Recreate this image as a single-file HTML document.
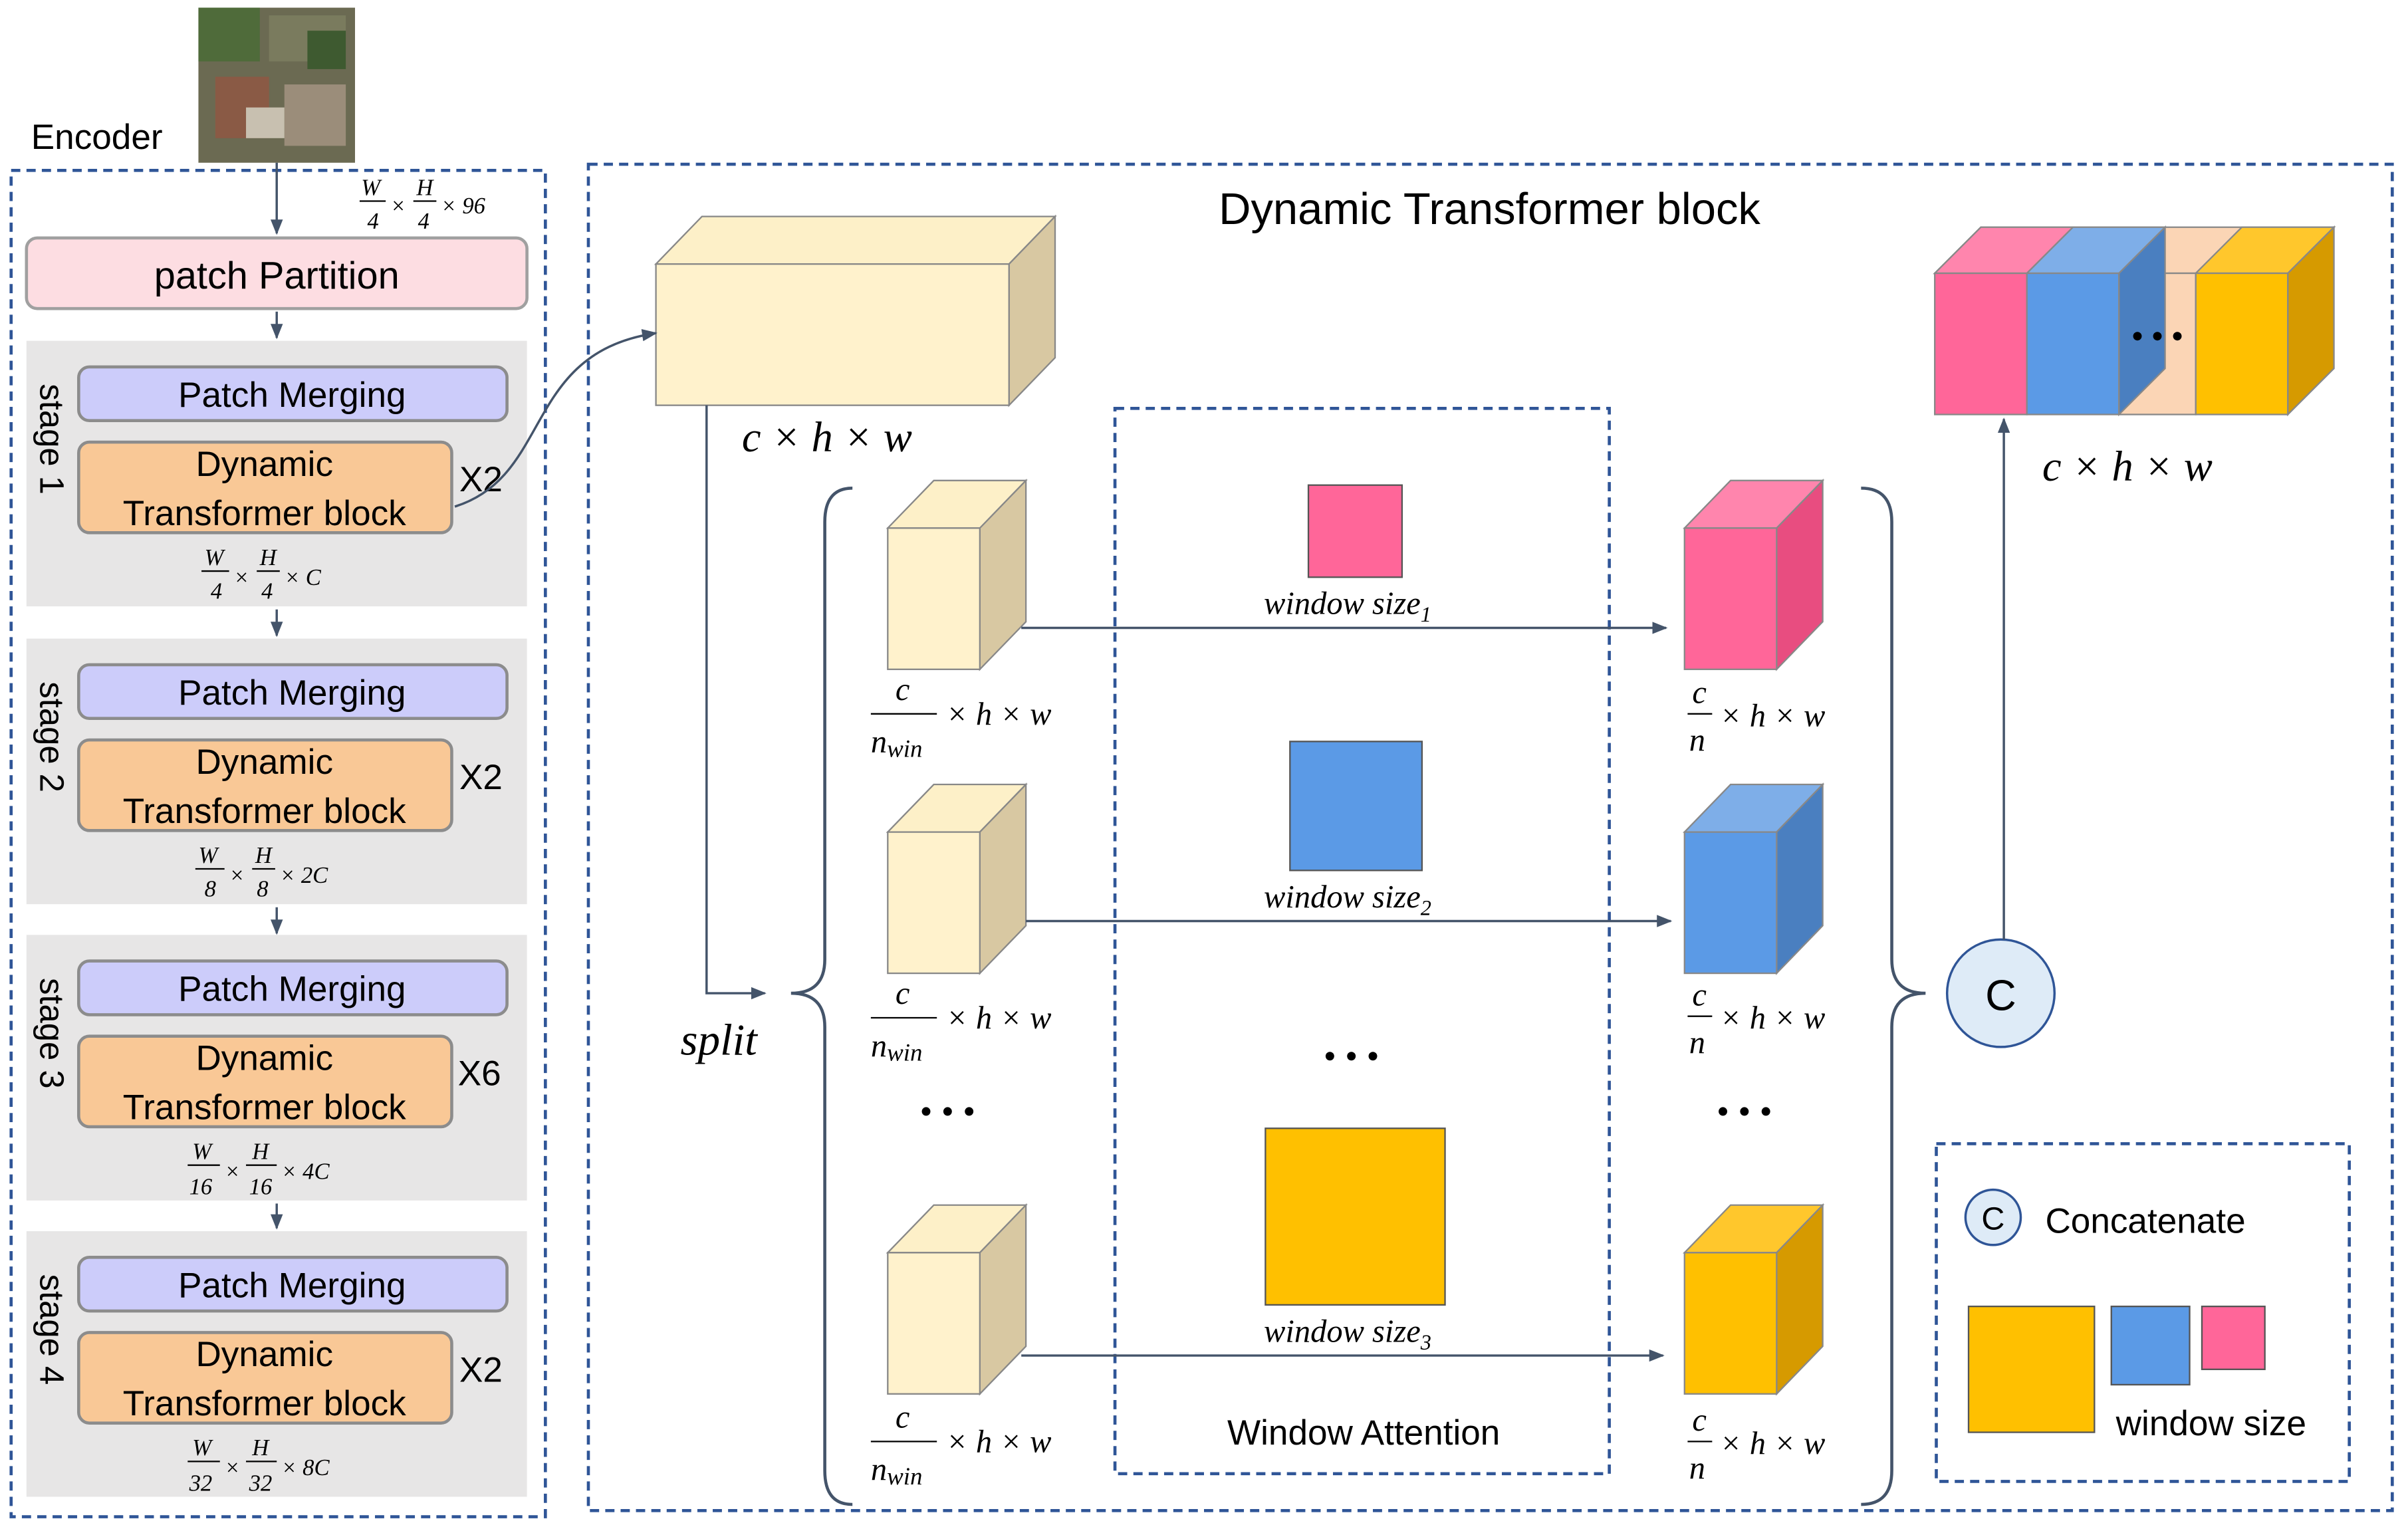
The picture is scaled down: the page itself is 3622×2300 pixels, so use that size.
<!DOCTYPE html>
<html><head><meta charset="utf-8"><style>
html,body{margin:0;padding:0;background:#fff}
svg{display:block}
.s{font-family:"Liberation Sans",sans-serif;fill:#000}
.m{font-family:"Liberation Serif",serif;font-style:italic;fill:#000}
</style></head><body>
<svg width="3622" height="2300" viewBox="0 0 1568 996" xmlns="http://www.w3.org/2000/svg">
<defs>
<marker id="a" markerWidth="10" markerHeight="10" refX="9" refY="5" orient="auto" markerUnits="userSpaceOnUse"><path d="M0,1 L10,5 L0,9 z" fill="#44546a"/></marker>
</defs>
<rect x="129" y="5" width="102" height="101" fill="#6b6a52"/>
<rect x="129" y="5" width="40" height="35" fill="#4f6b3a"/>
<rect x="175" y="10" width="50" height="30" fill="#7a7b5e"/>
<rect x="140" y="50" width="35" height="40" fill="#8a5a45"/>
<rect x="185" y="55" width="40" height="40" fill="#9b8d7a"/>
<rect x="160" y="70" width="25" height="20" fill="#c8c0b0"/>
<rect x="200" y="20" width="25" height="25" fill="#3e5a30"/>
<text x="20" y="97" class="s" font-size="23">Encoder</text>
<rect x="7" y="111" width="348" height="877" fill="none" stroke="#2f5597" stroke-width="2" stroke-dasharray="6,4"/>
<line x1="180" y1="106" x2="180" y2="152" stroke="#44546a" stroke-width="1.5" marker-end="url(#a)"/>
<g class="m" font-size="15">
<text x="235" y="127">W</text><line x1="234" y1="131" x2="251" y2="131" stroke="#000"/><text x="239" y="149">4</text>
<text x="254" y="139">×</text>
<text x="271" y="127">H</text><line x1="269" y1="131" x2="284" y2="131" stroke="#000"/><text x="272" y="149">4</text>
<text x="287" y="139">× 96</text>
</g>
<rect x="17" y="155" width="326" height="46" rx="7" fill="#fddde2" stroke="#a0a0a0" stroke-width="2"/>
<text x="180" y="188" class="s" font-size="25" text-anchor="middle">patch Partition</text>
<line x1="180" y1="203" x2="180" y2="220" stroke="#44546a" stroke-width="1.5" marker-end="url(#a)"/>

<g id="st">
<rect x="17" y="222" width="326" height="173" fill="#e7e6e6"/>
<rect x="51" y="239" width="279" height="35" rx="7" fill="#ccccfa" stroke="#8c8c8c" stroke-width="2"/>
<text x="190" y="265" class="s" font-size="23" text-anchor="middle">Patch Merging</text>
<rect x="51" y="288" width="243" height="59" rx="7" fill="#f9c896" stroke="#8c8c8c" stroke-width="2"/>
</g>
<use href="#st" y="194"/><use href="#st" y="387"/><use href="#st" y="580"/>
<g class="s" font-size="23" text-anchor="middle">
<text x="172" y="310">Dynamic</text><text x="172" y="342">Transformer block</text>
<text x="172" y="504">Dynamic</text><text x="172" y="536">Transformer block</text>
<text x="172" y="697">Dynamic</text><text x="172" y="729">Transformer block</text>
<text x="172" y="890">Dynamic</text><text x="172" y="922">Transformer block</text>
</g>
<g class="s" font-size="23">
<text x="299" y="320">X2</text><text x="299" y="514">X2</text><text x="298" y="707">X6</text><text x="299" y="900">X2</text>
</g>
<g class="s" font-size="22">
<text transform="translate(26,250) rotate(90)">stage 1</text>
<text transform="translate(26,444) rotate(90)">stage 2</text>
<text transform="translate(26,637) rotate(90)">stage 3</text>
<text transform="translate(26,830) rotate(90)">stage 4</text>
</g>
<g class="m" font-size="15">
<text x="133" y="368">W</text><line x1="131" y1="372" x2="149" y2="372" stroke="#000"/><text x="137" y="390">4</text><text x="152" y="381">×</text>
<text x="169" y="368">H</text><line x1="167" y1="372" x2="182" y2="372" stroke="#000"/><text x="170" y="390">4</text><text x="185" y="381">× C</text>

<text x="129" y="562">W</text><line x1="127" y1="566" x2="146" y2="566" stroke="#000"/><text x="133" y="584">8</text><text x="149" y="575">×</text>
<text x="166" y="562">H</text><line x1="164" y1="566" x2="179" y2="566" stroke="#000"/><text x="167" y="584">8</text><text x="182" y="575">× 2C</text>

<text x="125" y="755">W</text><line x1="122" y1="759" x2="143" y2="759" stroke="#000"/><text x="123" y="778">16</text><text x="146" y="768">×</text>
<text x="164" y="755">H</text><line x1="160" y1="759" x2="180" y2="759" stroke="#000"/><text x="162" y="778">16</text><text x="183" y="768">× 4C</text>

<text x="125" y="948">W</text><line x1="122" y1="952" x2="143" y2="952" stroke="#000"/><text x="123" y="971">32</text><text x="146" y="961">×</text>
<text x="164" y="948">H</text><line x1="160" y1="952" x2="180" y2="952" stroke="#000"/><text x="162" y="971">32</text><text x="183" y="961">× 8C</text>
</g>
<g stroke="#44546a" stroke-width="1.5" marker-end="url(#a)">
<line x1="180" y1="397" x2="180" y2="414"/><line x1="180" y1="591" x2="180" y2="608"/><line x1="180" y1="784" x2="180" y2="800"/>
</g>

<rect x="383" y="107" width="1175" height="877" fill="none" stroke="#2f5597" stroke-width="2" stroke-dasharray="6,4"/>
<text x="970" y="146" class="s" font-size="29" text-anchor="middle">Dynamic Transformer block</text>
<polygon points="427,172 457,141 687,141 657,172" fill="#fdf0c8" stroke="#888" stroke-width="1"/>
<polygon points="657,172 687,141 687,233 657,264" fill="#d8c8a2" stroke="#888" stroke-width="1"/>
<rect x="427" y="172" width="230" height="92" fill="#fff2cc" stroke="#888" stroke-width="1"/>
<path d="M296,330 C360,310 340,230 427,217" fill="none" stroke="#44546a" stroke-width="1.5" marker-end="url(#a)"/>
<text x="483" y="294" class="m" font-size="28">c × h × w</text>
<polyline points="460,264 460,647 498,647" fill="none" stroke="#44546a" stroke-width="1.5" marker-end="url(#a)"/>
<text x="443" y="687" class="m" font-size="29">split</text>
<path d="M555,318 Q537,318 537,340 L537,625 Q537,647 515,647 Q537,647 537,669 L537,958 Q537,980 555,980" fill="none" stroke="#44546a" stroke-width="2"/>
<path d="M1212,318 Q1232,318 1232,340 L1232,625 Q1232,647 1254,647 Q1232,647 1232,669 L1232,958 Q1232,980 1212,980" fill="none" stroke="#44546a" stroke-width="2"/>

<g id="sc">
<polygon points="578,344 608,313 668,313 638,344" fill="#fdf0c8" stroke="#888"/>
<polygon points="638,344 668,313 668,405 638,436" fill="#d8c8a2" stroke="#888"/>
<rect x="578" y="344" width="60" height="92" fill="#fff2cc" stroke="#888"/>
</g>
<use href="#sc" y="198"/><use href="#sc" y="472"/>
<g class="m" font-size="21">
<text x="583" y="456">c</text><line x1="567" y1="465" x2="610" y2="465" stroke="#000"/><text x="567" y="490">n<tspan font-size="16" dy="3">win</tspan></text><text x="616" y="472">× h × w</text>
<text x="583" y="654">c</text><line x1="567" y1="663" x2="610" y2="663" stroke="#000"/><text x="567" y="688">n<tspan font-size="16" dy="3">win</tspan></text><text x="616" y="670">× h × w</text>
<text x="583" y="930">c</text><line x1="567" y1="939" x2="610" y2="939" stroke="#000"/><text x="567" y="964">n<tspan font-size="16" dy="3">win</tspan></text><text x="616" y="946">× h × w</text>
</g>

<rect x="726" y="266" width="322" height="694" fill="none" stroke="#2f5597" stroke-width="2" stroke-dasharray="6,4"/>
<rect x="852" y="316" width="61" height="60" fill="#ff6699" stroke="#555"/>
<rect x="840" y="483" width="86" height="84" fill="#5b9ae6" stroke="#555"/>
<rect x="824" y="735" width="117" height="115" fill="#ffc000" stroke="#555"/>
<g class="m" font-size="21">
<text x="823" y="400">window size<tspan font-size="14" dy="5">1</tspan></text>
<text x="823" y="591">window size<tspan font-size="14" dy="5">2</tspan></text>
<text x="823" y="874">window size<tspan font-size="14" dy="5">3</tspan></text>
</g>
<text x="888" y="941" class="s" font-size="23" text-anchor="middle">Window Attention</text>
<g stroke="#44546a" stroke-width="1.5" marker-end="url(#a)">
<line x1="665" y1="409" x2="1085" y2="409"/><line x1="668" y1="600" x2="1088" y2="600"/><line x1="665" y1="883" x2="1083" y2="883"/>
</g>
<g fill="#000">
<circle cx="866" cy="688" r="2.8"/><circle cx="880" cy="688" r="2.8"/><circle cx="894" cy="688" r="2.8"/>
<circle cx="603" cy="724" r="2.8"/><circle cx="617" cy="724" r="2.8"/><circle cx="631" cy="724" r="2.8"/>
<circle cx="1122" cy="724" r="2.8"/><circle cx="1136" cy="724" r="2.8"/><circle cx="1150" cy="724" r="2.8"/>
</g>

<polygon points="1097,344 1127,313 1187,313 1157,344" fill="#ff85ad" stroke="#888"/>
<polygon points="1157,344 1187,313 1187,405 1157,436" fill="#e84d80" stroke="#888"/>
<rect x="1097" y="344" width="60" height="92" fill="#ff6699" stroke="#888"/>
<polygon points="1097,542 1127,511 1187,511 1157,542" fill="#7eaee8" stroke="#888"/>
<polygon points="1157,542 1187,511 1187,603 1157,634" fill="#4a7fc0" stroke="#888"/>
<rect x="1097" y="542" width="60" height="92" fill="#5b9ae6" stroke="#888"/>
<polygon points="1097,816 1127,785 1187,785 1157,816" fill="#ffc72c" stroke="#888"/>
<polygon points="1157,816 1187,785 1187,877 1157,908" fill="#d69a00" stroke="#888"/>
<rect x="1097" y="816" width="60" height="92" fill="#ffc000" stroke="#888"/>
<g class="m" font-size="21">
<text x="1102" y="458">c</text><line x1="1099" y1="465" x2="1115" y2="465" stroke="#000"/><text x="1100" y="489">n</text><text x="1120" y="473">× h × w</text>
<text x="1102" y="655">c</text><line x1="1099" y1="662" x2="1115" y2="662" stroke="#000"/><text x="1100" y="686">n</text><text x="1120" y="670">× h × w</text>
<text x="1102" y="932">c</text><line x1="1099" y1="939" x2="1115" y2="939" stroke="#000"/><text x="1100" y="963">n</text><text x="1120" y="947">× h × w</text>
</g>
<circle cx="1303" cy="647" r="35" fill="#deebf7" stroke="#2f5597" stroke-width="1.5"/>
<text x="1303" y="658" class="s" font-size="28" text-anchor="middle" fill="#555">C</text>
<line x1="1305" y1="612" x2="1305" y2="273" stroke="#44546a" stroke-width="1.5" marker-end="url(#a)"/>

<polygon points="1260,178 1290,148 1520,148 1490,178" fill="#fbd5b5" stroke="#888"/>
<polygon points="1260,178 1290,148 1350,148 1320,178" fill="#ff85ad" stroke="#888"/>
<polygon points="1320,178 1350,148 1410,148 1380,178" fill="#7eaee8" stroke="#888"/>
<polygon points="1430,178 1460,148 1520,148 1490,178" fill="#ffc72c" stroke="#888"/>
<rect x="1260" y="178" width="60" height="92" fill="#ff6699" stroke="#888"/>
<rect x="1320" y="178" width="60" height="92" fill="#5b9ae6" stroke="#888"/>
<rect x="1380" y="178" width="50" height="92" fill="#fbd5b5" stroke="#888"/>
<polygon points="1380,178 1410,148 1410,240 1380,270" fill="#4a7fc0" stroke="#888"/>
<rect x="1430" y="178" width="60" height="92" fill="#ffc000" stroke="#888"/>
<polygon points="1490,178 1520,148 1520,240 1490,270" fill="#d69a00" stroke="#888"/>
<g fill="#000"><circle cx="1392" cy="219" r="2.8"/><circle cx="1405" cy="219" r="2.8"/><circle cx="1418" cy="219" r="2.8"/></g>
<text x="1330" y="313" class="m" font-size="28">c × h × w</text>

<rect x="1261" y="745" width="269" height="220" fill="none" stroke="#2f5597" stroke-width="2" stroke-dasharray="6,4"/>
<circle cx="1298" cy="793" r="18" fill="#deebf7" stroke="#2f5597" stroke-width="1.5"/>
<text x="1298" y="801" class="s" font-size="21" text-anchor="middle" fill="#555">C</text>
<text x="1332" y="803" class="s" font-size="23">Concatenate</text>
<rect x="1282" y="851" width="82" height="82" fill="#ffc000" stroke="#555"/>
<rect x="1375" y="851" width="51" height="51" fill="#5b9ae6" stroke="#555"/>
<rect x="1434" y="851" width="41" height="41" fill="#ff6699" stroke="#555"/>
<text x="1378" y="935" class="s" font-size="23">window size</text>
</svg>
</body></html>
